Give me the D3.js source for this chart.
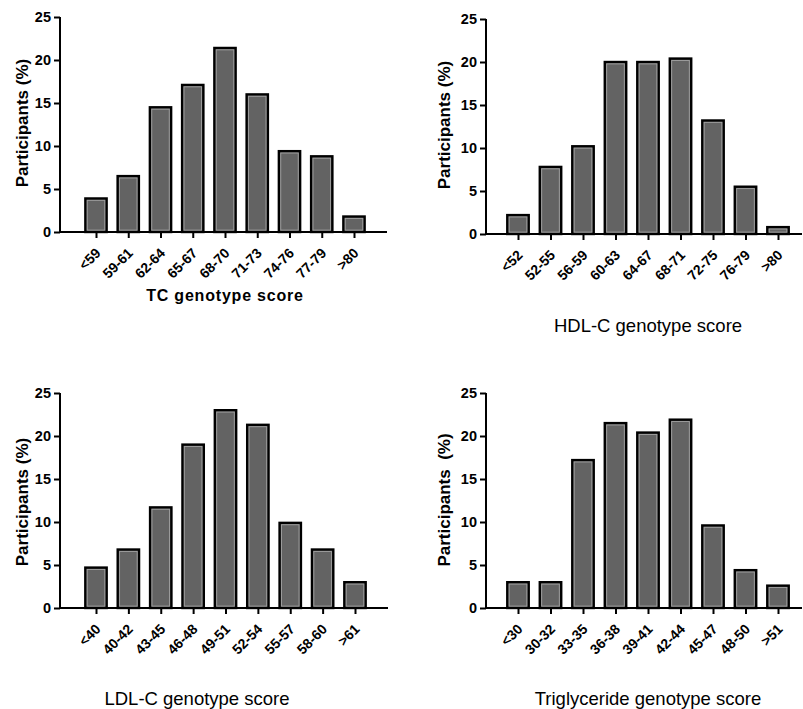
<!DOCTYPE html>
<html>
<head>
<meta charset="utf-8">
<script src="https://cdn.jsdelivr.net/npm/d3@7"></script>
<style>
  body { margin: 0; background: #fff; }
  svg { display: block; font-family: "Liberation Sans", Arial, sans-serif; }
</style>
</head>
<body>
<svg id="chart"></svg>
<script>
// values (% of participants)
const tcCategories = ["<59", "59-61", "62-64", "65-67", "68-70", "71-73", "74-76", "77-79", ">80"];
const tcValues = [3.9, 6.5, 14.5, 17.1, 21.4, 16.0, 9.4, 8.8, 1.8];

const hdlCategories = ["<52", "52-55", "56-59", "60-63", "64-67", "68-71", "72-75", "76-79", ">80"];
const hdlValues = [2.2, 7.8, 10.2, 20.0, 20.0, 20.4, 13.2, 5.5, 0.8];

const ldlCategories = ["<40", "40-42", "43-45", "46-48", "49-51", "52-54", "55-57", "58-60", ">61"];
const ldlValues = [4.7, 6.8, 11.7, 19.0, 23.0, 21.3, 9.9, 6.8, 3.0];

const tgCategories = ["<30", "30-32", "33-35", "36-38", "39-41", "42-44", "45-47", "48-50", ">51"];
const tgValues = [3.0, 3.0, 17.2, 21.5, 20.4, 21.9, 9.6, 4.4, 2.6];

const yTicks = [0, 5, 10, 15, 20, 25];

const width = 803;
const height = 709;

const svg = d3.select("#chart").attr("width", width).attr("height", height);

// one panel per score; layout numbers
const panels = [
  { cats: tcCategories, vals: tcValues, title: "TC genotype score", boldTitle: true,
    yLabel: "Participants (%)", axisX: 60, axisEnd: 387, y0: 232, y25: 17,
    firstC: 96, lastC: 354, titleX: 225, titleY: 301, labelX: 28, labelY: 123 },
  { cats: hdlCategories, vals: hdlValues, title: "HDL-C genotype score", boldTitle: false,
    yLabel: "Participants (%)", axisX: 486, axisEnd: 802, y0: 234, y25: 19,
    firstC: 518, lastC: 778, titleX: 648, titleY: 332, labelX: 450, labelY: 125 },
  { cats: ldlCategories, vals: ldlValues, title: "LDL-C genotype score", boldTitle: false,
    yLabel: "Participants (%)", axisX: 60, axisEnd: 388, y0: 608, y25: 393,
    firstC: 96, lastC: 355, titleX: 197, titleY: 705, labelX: 28, labelY: 502 },
  { cats: tgCategories, vals: tgValues, title: "Triglyceride genotype score", boldTitle: false,
    yLabel: "Participants  (%)", axisX: 486, axisEnd: 802, y0: 608, y25: 393,
    firstC: 518, lastC: 778, titleX: 648, titleY: 705, labelX: 450, labelY: 500 }
];

panels.forEach(drawPanel);

function drawPanel(p) {
  const g = svg.append("g");

  const yScale = d3.scaleLinear().domain([0, 25]).range([p.y0, p.y25]);
  const xScale = d3.scalePoint().domain(p.cats).range([p.firstC, p.lastC]);
  const barW = xScale.step() * 0.66;

  // bars: black outline with a lighter inner edge
  const bars = g.selectAll("g.bar")
    .data(p.cats.map((c, i) => ({ cat: c, val: p.vals[i] })))
    .join("g")
    .attr("class", "bar");

  bars.append("rect")
    .attr("x", (d) => xScale(d.cat) - barW / 2)
    .attr("y", (d) => yScale(d.val))
    .attr("width", barW)
    .attr("height", (d) => yScale(0) - yScale(d.val))
    .attr("fill", "#646464")
    .attr("stroke", "#000")
    .attr("stroke-width", 2.4);

  bars.append("rect")
    .attr("x", (d) => xScale(d.cat) - barW / 2 + 1.9)
    .attr("y", (d) => yScale(d.val) + 1.9)
    .attr("width", barW - 3.8)
    .attr("height", (d) => Math.max(0, yScale(0) - yScale(d.val) - 3.8))
    .attr("fill", "#636363")
    .attr("stroke", "#a0a0a0")
    .attr("stroke-width", 0.9);

  // y axis
  const yAxis = d3.axisLeft(yScale).tickValues(yTicks).tickSize(6).tickPadding(3);
  const yg = g.append("g")
    .attr("transform", `translate(${p.axisX},0)`)
    .call(yAxis);
  yg.select(".domain").attr("stroke-width", 2).attr("d", `M0,${p.y0 + 1}V${p.y25}`);
  yg.selectAll(".tick line").attr("stroke-width", 2);
  yg.selectAll(".tick text")
    .attr("font-size", 14.5)
    .attr("font-weight", "bold")
    .attr("fill", "#000")
    .attr("font-family", "'Liberation Sans', Arial, sans-serif");

  // x axis
  const xAxis = d3.axisBottom(xScale).tickSize(6).tickSizeOuter(0);
  const xg = g.append("g")
    .attr("transform", `translate(0,${p.y0})`)
    .call(xAxis);
  xg.select(".domain").attr("stroke-width", 2).attr("d", `M${p.axisX},0H${p.axisEnd}`);
  xg.selectAll(".tick line").attr("stroke-width", 2);
  xg.selectAll(".tick text")
    .attr("font-size", 14)
    .attr("font-weight", "bold")
    .attr("fill", "#000")
    .attr("font-family", "'Liberation Sans', Arial, sans-serif")
    .attr("text-anchor", "end")
    .attr("dy", null)
    .attr("y", null)
    .attr("transform", "translate(5,22) rotate(-45)");

  // axis titles
  g.append("text")
    .attr("x", p.titleX)
    .attr("y", p.titleY)
    .attr("text-anchor", "middle")
    .attr("font-size", p.boldTitle ? 16 : 18.5)
    .attr("font-weight", p.boldTitle ? "bold" : "normal")
    .attr("letter-spacing", p.boldTitle ? 0.8 : 0)
    .style("white-space", "pre")
    .text(p.title);

  g.append("text")
    .attr("transform", `translate(${p.labelX},${p.labelY}) rotate(-90)`)
    .attr("text-anchor", "middle")
    .attr("font-size", 17)
    .attr("font-weight", "bold")
    .style("white-space", "pre")
    .text(p.yLabel);
}
</script>
</body>
</html>
